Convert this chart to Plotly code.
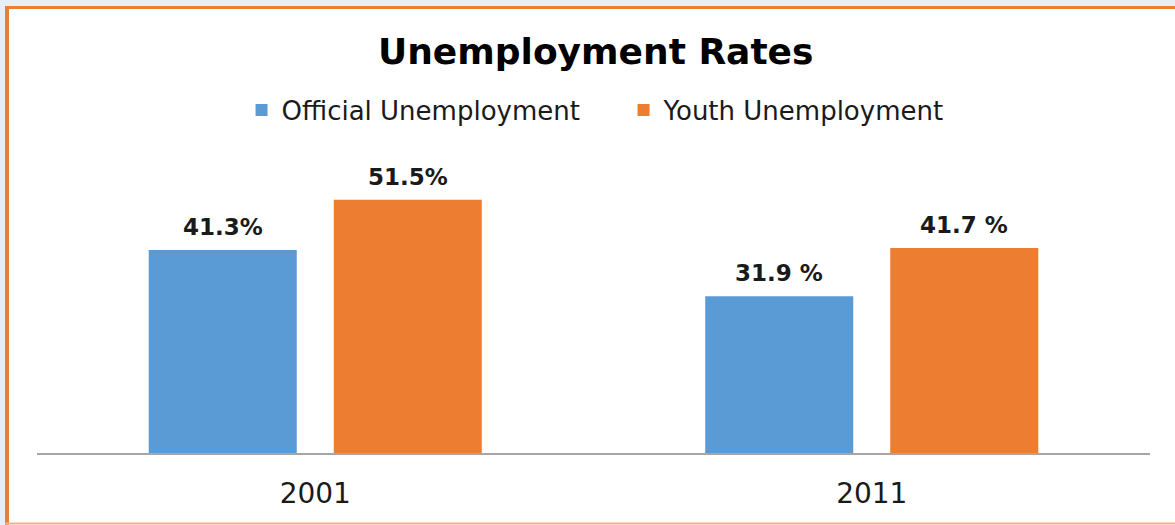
import plotly.graph_objects as go

# Census years and unemployment rates (%)
years = ["2001", "2011"]
official = [41.3, 31.9]
youth = [51.5, 41.7]
official_labels = ["41.3%", "31.9 %"]
youth_labels = ["51.5%", "41.7 %"]

BLUE = "#5b9bd5"
ORANGE = "#ed7d31"

W, H = 1175, 525
M_L, M_R, M_T, M_B = 37, 25, 158, 72
Y_MAX = 60

fig = go.Figure()
fig.add_trace(go.Bar(name="Official Unemployment", x=years, y=official,
                     marker=dict(color=BLUE, line=dict(width=0))))
fig.add_trace(go.Bar(name="Youth Unemployment", x=years, y=youth,
                     marker=dict(color=ORANGE, line=dict(width=0))))

BARGAP = 0.335
GROUPGAP = 0.2
plot_w = W - M_L - M_R
slot = plot_w / len(years) * (1 - BARGAP) / 2

# value labels above each bar (category index positions on the x axis)
label_font = dict(family="DejaVu Sans", size=23, color="#1a1a1a")
annotations = []
for vals, labels, side in ((official, official_labels, -1), (youth, youth_labels, 1)):
    for i, (v, lab) in enumerate(zip(vals, labels)):
        annotations.append(dict(x=i, y=v, xref="x", yref="y", text=f"<b>{lab}</b>",
                                showarrow=False, yanchor="bottom", xanchor="center",
                                xshift=side * slot / 2, yshift=8, font=label_font))


def px_x(p):
    return (p - M_L) / plot_w


def px_y(p):
    return (H - M_B - p) / (H - M_T - M_B)


shapes = [
    # white panel
    dict(type="rect", xref="paper", yref="paper", x0=px_x(7), x1=px_x(1200),
         y0=px_y(530), y1=px_y(7), fillcolor="white", line=dict(width=0), layer="below"),
    # orange frame
    dict(type="line", xref="paper", yref="paper", x0=px_x(5), x1=px_x(1200),
         y0=px_y(7.5), y1=px_y(7.5), line=dict(color=ORANGE, width=3)),
    dict(type="line", xref="paper", yref="paper", x0=px_x(7), x1=px_x(7),
         y0=px_y(6), y1=px_y(525), line=dict(color=ORANGE, width=4)),
    dict(type="line", xref="paper", yref="paper", x0=px_x(5), x1=px_x(1200),
         y0=px_y(523.5), y1=px_y(523.5), line=dict(color="#f4b183", width=2)),
]

fig.update_layout(
    width=W, height=H,
    margin=dict(l=M_L, r=M_R, t=M_T, b=M_B, pad=0, autoexpand=False),
    paper_bgcolor="#e6eef8",
    plot_bgcolor="rgba(0,0,0,0)",
    barmode="group", bargap=BARGAP, bargroupgap=GROUPGAP,
    title=dict(text="<b>Unemployment Rates</b>", x=0.507, xanchor="center",
               y=1 - 51 / H, yanchor="middle", yref="container",
               font=dict(family="DejaVu Sans", size=36, color="#000000")),
    legend=dict(orientation="h", x=0.527, xanchor="center", y=1 - 110 / H,
                yanchor="middle", yref="container",
                font=dict(family="DejaVu Sans", size=26, color="#1a1a1a"),
                itemsizing="constant", traceorder="normal", bgcolor="rgba(0,0,0,0)",
                itemwidth=30, entrywidth=337, entrywidthmode="pixels"),
    xaxis=dict(type="category", range=[-0.5, 1.5], showline=True, automargin=False,
               linecolor="#a6a6a6", linewidth=1.5,
               ticks="", ticklabelstandoff=15,
               tickfont=dict(family="DejaVu Sans", size=28, color="#1a1a1a"),
               showgrid=False, zeroline=False),
    yaxis=dict(range=[0, Y_MAX], visible=False, showgrid=False, zeroline=False,
               automargin=False),
    annotations=annotations,
    shapes=shapes,
    showlegend=True,
)

fig.write_html("out.html")
